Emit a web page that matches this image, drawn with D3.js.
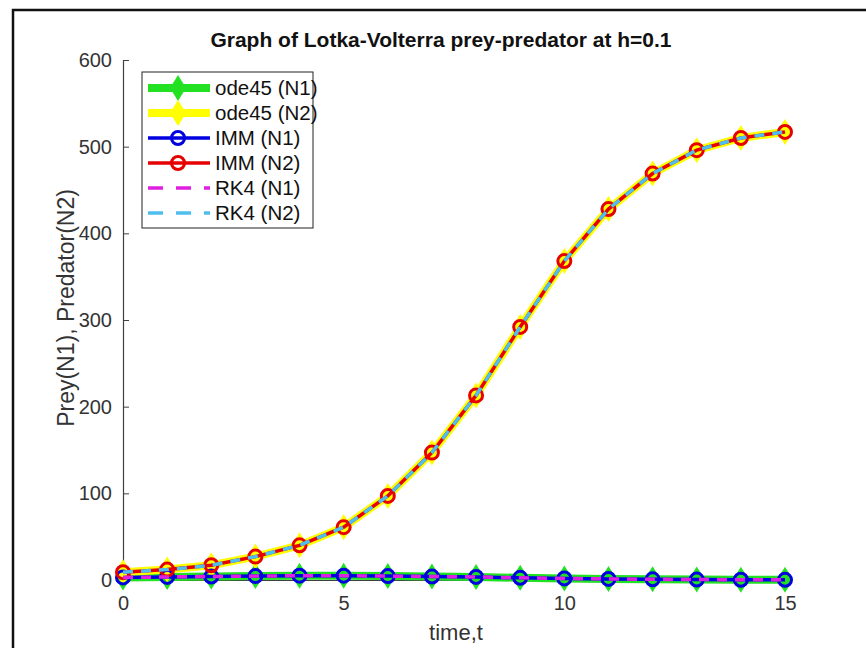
<!DOCTYPE html>
<html>
<head>
<meta charset="utf-8">
<script src="https://cdn.jsdelivr.net/npm/d3@7"></script>
<style>
  body { margin: 0; background: #fff; }
  svg { font-family: "Liberation Sans", Arial, sans-serif; }
</style>
</head>
<body>
<div id="chart"></div>
<script>
// time points and values
var time = [0, 1, 2, 3, 4, 5, 6, 7, 8, 9, 10, 11, 12, 13, 14, 15];
var preyN1 = [3, 3.5, 4, 4.5, 5, 5, 4.5, 4, 3.5, 2.5, 1.8, 1.2, 0.8, 0.5, 0.3, 0.2];
var predN2 = [9, 12, 17, 27, 40, 61, 97, 147, 213, 292, 368, 428, 469, 496, 510, 517];
var xTicks = [0, 5, 10, 15];
var yTicks = [0, 100, 200, 300, 400, 500, 600];
var seriesNames = ["ode45 (N1)", "ode45 (N2)", "IMM (N1)", "IMM (N2)", "RK4 (N1)", "RK4 (N2)"];

let width = 866, height = 648;
let plotLeft = 123, plotTop = 60, plotW = 662, plotH = 520;

var svg = d3.select("#chart").append("svg")
	.attr("width", width)
	.attr("height", height);

// screenshot frame
svg.append("path")
	.attr("d", "M13,648 L13,10 L866,10")
	.attr("fill", "none")
	.attr("stroke", "#111")
	.attr("stroke-width", 2.5);

var x = d3.scaleLinear().domain([0, 15]).range([plotLeft, plotLeft + plotW]);
var y = d3.scaleLinear().domain([0, 600]).range([plotTop + plotH, plotTop]);

var axisColor = "#404040";

// axes (ticks point inwards)
var yAxis = svg.append("g")
	.attr("transform", "translate(" + plotLeft + ",0)")
	.call(d3.axisLeft(y).tickValues(yTicks).tickSize(-6).tickPadding(11));
var xAxis = svg.append("g")
	.attr("transform", "translate(0," + (plotTop + plotH) + ")")
	.call(d3.axisBottom(x).tickValues(xTicks).tickSize(-6).tickPadding(16));

[xAxis, yAxis].forEach(a => {
	a.select(".domain").attr("stroke", axisColor).attr("stroke-width", 1.2);
	a.selectAll(".tick line").attr("stroke", axisColor);
	a.selectAll("text").attr("fill", "#333").style("font-size", "20px");
});

svg.append("text")
	.attr("x", 441)
	.attr("y", 47)
	.attr("text-anchor", "middle")
	.style("font-size", "21px")
	.style("font-weight", "bold")
	.attr("fill", "#111")
	.text("Graph of Lotka-Volterra prey-predator at h=0.1");

svg.append("text")
	.attr("x", 456)
	.attr("y", 640)
	.attr("text-anchor", "middle")
	.style("font-size", "22px")
	.attr("fill", "#333")
	.text("time,t");

svg.append("text")
	.attr("transform", "translate(74,308) rotate(-90)")
	.attr("text-anchor", "middle")
	.style("font-size", "23px")
	.attr("fill", "#333")
	.text("Prey(N1), Predator(N2)");

var styles = [
	{ data: preyN1, color: "#22e022", width: 8, dash: null, marker: "diamond" },
	{ data: predN2, color: "#ffff00", width: 8, dash: null, marker: "diamond" },
	{ data: preyN1, color: "#0000e0", width: 3.5, dash: null, marker: "circle" },
	{ data: predN2, color: "#e60000", width: 3.5, dash: null, marker: "circle" },
	{ data: preyN1, color: "#e020e0", width: 3.5, dash: "10,8", keyDash: "15,13", marker: null },
	{ data: predN2, color: "#4dbeee", width: 3.5, dash: "10,8", keyDash: "15,13", marker: null }
];

var line = d3.line()
	.x((d, i) => x(time[i]))
	.y(d => y(d));

var diamond = function(cx, cy, hw, hh) {
	return "M" + cx + "," + (cy - hh) + " L" + (cx + hw) + "," + cy +
		" L" + cx + "," + (cy + hh) + " L" + (cx - hw) + "," + cy + " Z";
}

function drawMarkers(g, s, pts) {
	if (s.marker == "diamond") {
		g.selectAll("path.mk").data(pts).enter()
			.append("path")
			.attr("class", "mk")
			.attr("d", p => diamond(p[0], p[1], 8, 13))
			.attr("fill", s.color);
	} else if (s.marker == "circle") {
		g.selectAll("circle.mk").data(pts).enter()
			.append("circle")
			.attr("class", "mk")
			.attr("cx", p => p[0])
			.attr("cy", p => p[1])
			.attr("r", 6.5)
			.attr("fill", "none")
			.attr("stroke", s.color)
			.attr("stroke-width", 3);
	}
}

styles.forEach(s => {
	var g = svg.append("g");
	g.append("path")
		.datum(s.data)
		.attr("d", line)
		.attr("fill", "none")
		.attr("stroke", s.color)
		.attr("stroke-width", s.width)
		.attr("stroke-dasharray", s.dash);
	drawMarkers(g, s, s.data.map((d, i) => [x(time[i]), y(d)]));
});

// legend
var legend = svg.append("g");
legend.append("rect")
	.attr("x", 142)
	.attr("y", 72)
	.attr("width", 171)
	.attr("height", 156)
	.attr("fill", "#fff")
	.attr("stroke", "#222")
	.attr("stroke-width", 1);

seriesNames.forEach((name, i) => {
	var s = styles[i];
	var ly = 88 + i * 25;
	var g = legend.append("g");
	g.append("line")
		.attr("x1", 148).attr("x2", 210)
		.attr("y1", ly).attr("y2", ly)
		.attr("stroke", s.color)
		.attr("stroke-width", s.width)
		.attr("stroke-dasharray", s.keyDash || null);
	drawMarkers(g, s, [[178, ly]]);
	g.append("text")
		.attr("x", 215)
		.attr("y", ly + 7)
		.style("font-size", "20.5px")
		.attr("fill", "#111")
		.text(name);
});
</script>
</body>
</html>
